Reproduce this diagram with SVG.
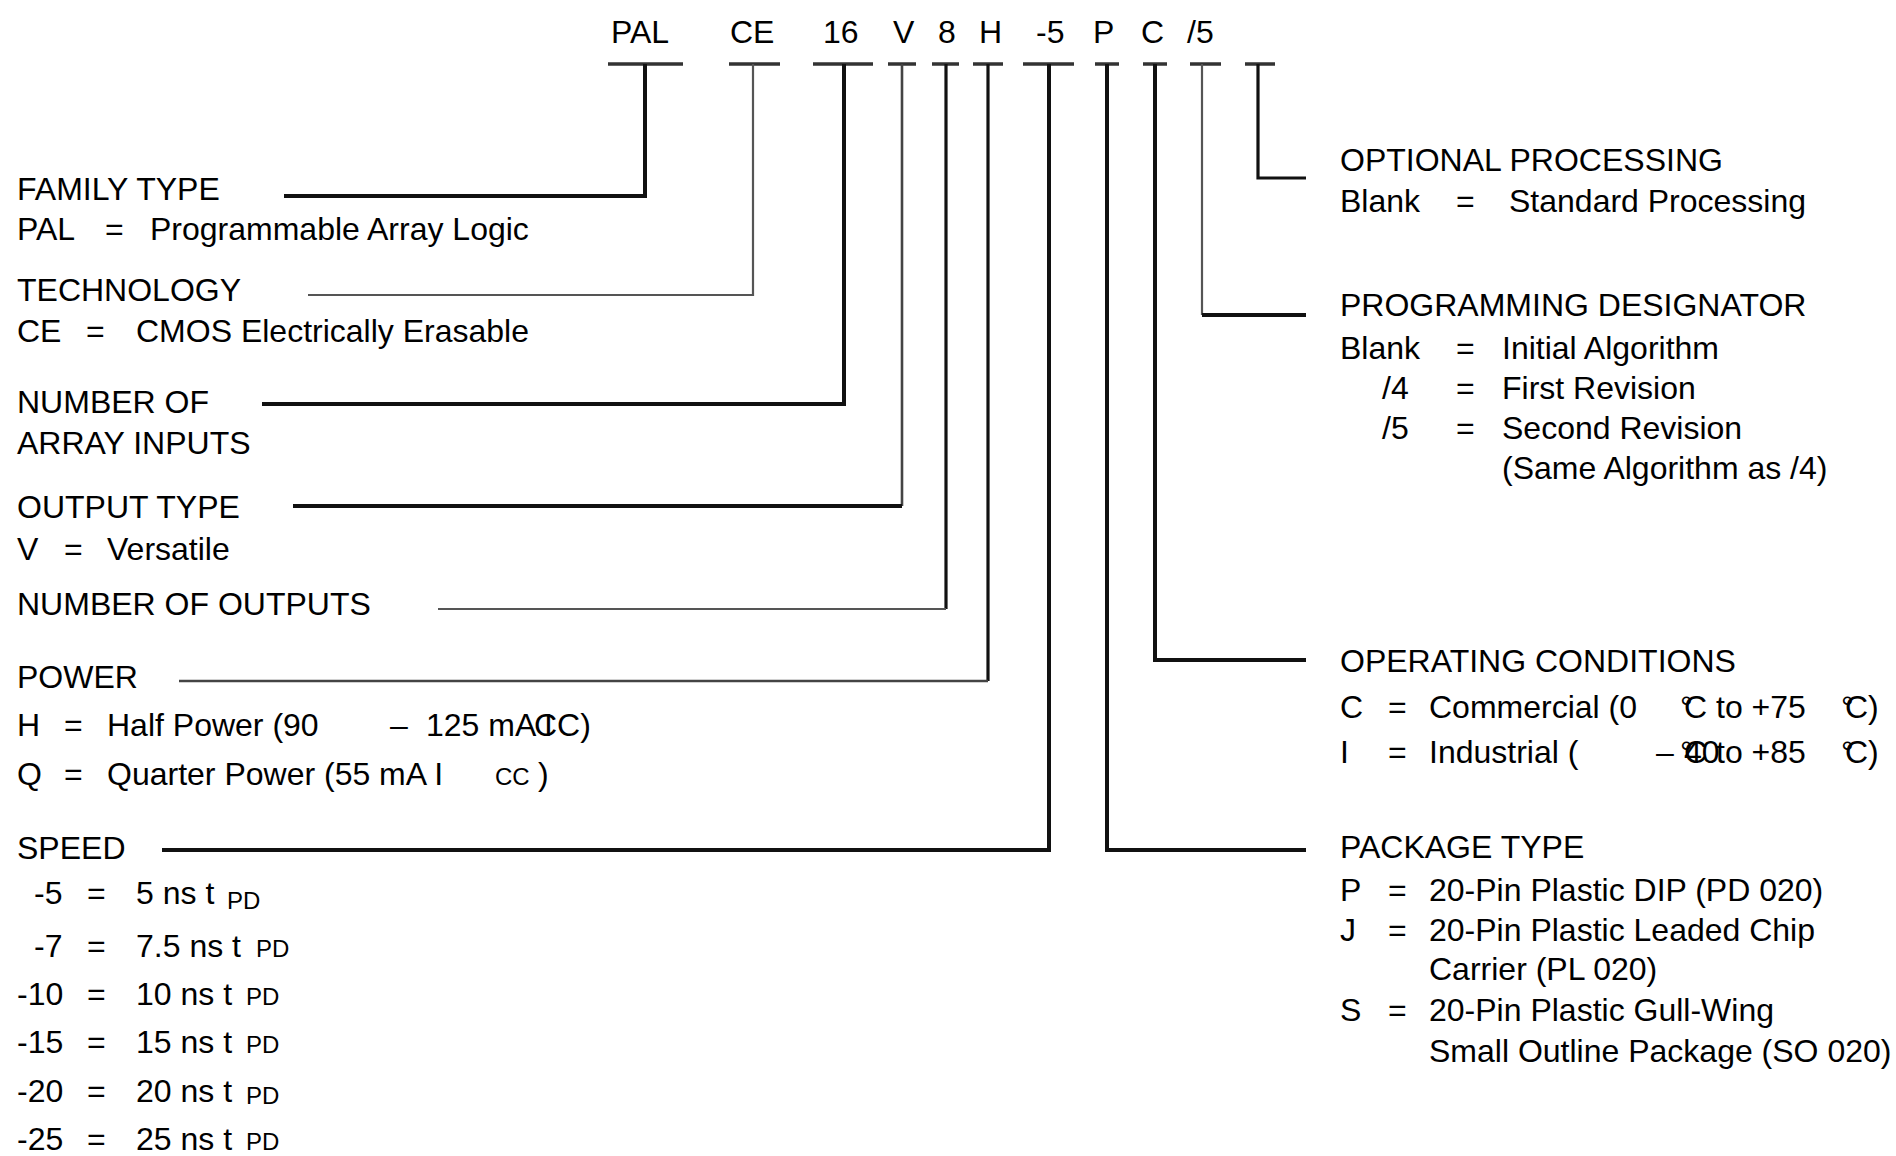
<svg xmlns="http://www.w3.org/2000/svg" width="1896" height="1156" viewBox="0 0 1896 1156">
<style>
text{font-family:"Liberation Sans",Arial,sans-serif;font-size:32px;fill:#000}
.s{font-size:24px}
.bar{stroke:#333;stroke-width:3.5;fill:none}
.k4{stroke:#111;stroke-width:4;fill:none}
.k3{stroke:#111;stroke-width:3.2;fill:none}
.g2{stroke:#555;stroke-width:2.2;fill:none}
.g3{stroke:#444;stroke-width:2.6;fill:none}
</style>
<rect width="1896" height="1156" fill="#fff"/>

<g id="code">
<text x="611" y="43">PAL</text>
<text x="730" y="43">CE</text>
<text x="823" y="43">16</text>
<text x="893" y="43">V</text>
<text x="938" y="43">8</text>
<text x="979" y="43">H</text>
<text x="1036" y="43">-5</text>
<text x="1093" y="43">P</text>
<text x="1141" y="43">C</text>
<text x="1187" y="43">/5</text>
</g>

<g id="connectors">
<path class="bar" d="M608,64H683M729,64H780M813,64H873M888,64H916M932,64H959M973,64H1003M1023,64H1074M1095,64H1119M1143,64H1167M1190,64H1221M1245,64H1275"/>
<path class="k4" d="M645,64V196H284"/>
<path class="g2" d="M753,64V295H308"/>
<path class="k4" d="M844,64V404H262"/>
<path class="g3" d="M902,64V506"/>
<path class="k4" d="M902,506H293"/>
<path class="k3" d="M946,64V609"/>
<path class="g2" d="M946,609H438"/>
<path class="k3" d="M988,64V681"/>
<path class="g3" d="M988,681H179"/>
<path class="k4" d="M1049,64V850H162"/>
<path class="k4" d="M1107,64V850H1306"/>
<path class="k4" d="M1155,64V660H1306"/>
<path class="g2" d="M1202,64V315"/>
<path class="k4" d="M1202,315H1306"/>
<path class="k3" d="M1258,64V178H1306"/>
</g>

<g id="family-type">
<text x="17" y="200">FAMILY TYPE</text>
<text x="17" y="240">PAL</text><text x="105" y="240">=</text><text x="150" y="240">Programmable Array Logic</text>
</g>

<g id="technology">
<text x="17" y="301">TECHNOLOGY</text>
<text x="17" y="342">CE</text><text x="86" y="342">=</text><text x="136" y="342">CMOS Electrically Erasable</text>
</g>

<g id="array-inputs">
<text x="17" y="413">NUMBER OF</text>
<text x="17" y="454">ARRAY INPUTS</text>
</g>

<g id="output-type">
<text x="17" y="518">OUTPUT TYPE</text>
<text x="17" y="560">V</text><text x="64" y="560">=</text><text x="107" y="560">Versatile</text>
</g>

<g id="outputs">
<text x="17" y="615">NUMBER OF OUTPUTS</text>
</g>

<g id="power">
<text x="17" y="688">POWER</text>
<text x="17" y="736">H</text><text x="64" y="736">=</text><text x="107" y="736">Half Power (90</text>
<text x="390" y="736">–</text><text x="426" y="736">125 mA</text>
<text x="544" y="736">I</text><text x="534" y="736">CC)</text>
<text x="17" y="785">Q</text><text x="64" y="785">=</text><text x="107" y="785">Quarter Power (55 mA I</text>
<text class="s" x="495" y="785">CC</text><text x="538" y="785">)</text>
</g>

<g id="speed">
<text x="17" y="859">SPEED</text>
<text x="34" y="904">-5</text><text x="87" y="904">=</text><text x="136" y="904">5 ns t</text><text class="s" x="227" y="909">PD</text>
<text x="34" y="957">-7</text><text x="87" y="957">=</text><text x="136" y="957">7.5 ns t</text><text class="s" x="256" y="957">PD</text>
<text x="17" y="1005">-10</text><text x="87" y="1005">=</text><text x="136" y="1005">10 ns t</text><text class="s" x="246" y="1005">PD</text>
<text x="17" y="1053">-15</text><text x="87" y="1053">=</text><text x="136" y="1053">15 ns t</text><text class="s" x="246" y="1053">PD</text>
<text x="17" y="1102">-20</text><text x="87" y="1102">=</text><text x="136" y="1102">20 ns t</text><text class="s" x="246" y="1104">PD</text>
<text x="17" y="1150">-25</text><text x="87" y="1150">=</text><text x="136" y="1150">25 ns t</text><text class="s" x="246" y="1150">PD</text>
</g>

<g id="optional-processing">
<text x="1340" y="171">OPTIONAL PROCESSING</text>
<text x="1340" y="212">Blank</text><text x="1456" y="212">=</text><text x="1509" y="212">Standard Processing</text>
</g>

<g id="programming-designator">
<text x="1340" y="316">PROGRAMMING DESIGNATOR</text>
<text x="1340" y="359">Blank</text><text x="1456" y="359">=</text><text x="1502" y="359">Initial Algorithm</text>
<text x="1382" y="399">/4</text><text x="1456" y="399">=</text><text x="1502" y="399">First Revision</text>
<text x="1382" y="439">/5</text><text x="1456" y="439">=</text><text x="1502" y="439">Second Revision</text>
<text x="1502" y="479">(Same Algorithm as /4)</text>
</g>

<g id="operating-conditions">
<text x="1340" y="672">OPERATING CONDITIONS</text>
<text x="1340" y="718">C</text><text x="1388" y="718">=</text><text x="1429" y="718">Commercial (0</text>
<text x="1680" y="718">°</text><text x="1684" y="718">C</text><text x="1716" y="718">to +75</text>
<text x="1841" y="718">°</text><text x="1845" y="718">C)</text>
<text x="1340" y="763">I</text><text x="1388" y="763">=</text><text x="1429" y="763">Industrial (</text>
<text x="1656" y="763">–</text><text x="1684" y="763">40</text>
<text x="1680" y="763">°</text><text x="1684" y="763">C</text><text x="1716" y="763">to +85</text>
<text x="1841" y="763">°</text><text x="1845" y="763">C)</text>
</g>

<g id="package-type">
<text x="1340" y="858">PACKAGE TYPE</text>
<text x="1340" y="901">P</text><text x="1388" y="901">=</text><text x="1429" y="901">20-Pin Plastic DIP (PD 020)</text>
<text x="1340" y="941">J</text><text x="1388" y="941">=</text><text x="1429" y="941">20-Pin Plastic Leaded Chip</text>
<text x="1429" y="980">Carrier (PL 020)</text>
<text x="1340" y="1021">S</text><text x="1388" y="1021">=</text><text x="1429" y="1021">20-Pin Plastic Gull-Wing</text>
<text x="1429" y="1062">Small Outline Package (SO 020)</text>
</g>
</svg>
